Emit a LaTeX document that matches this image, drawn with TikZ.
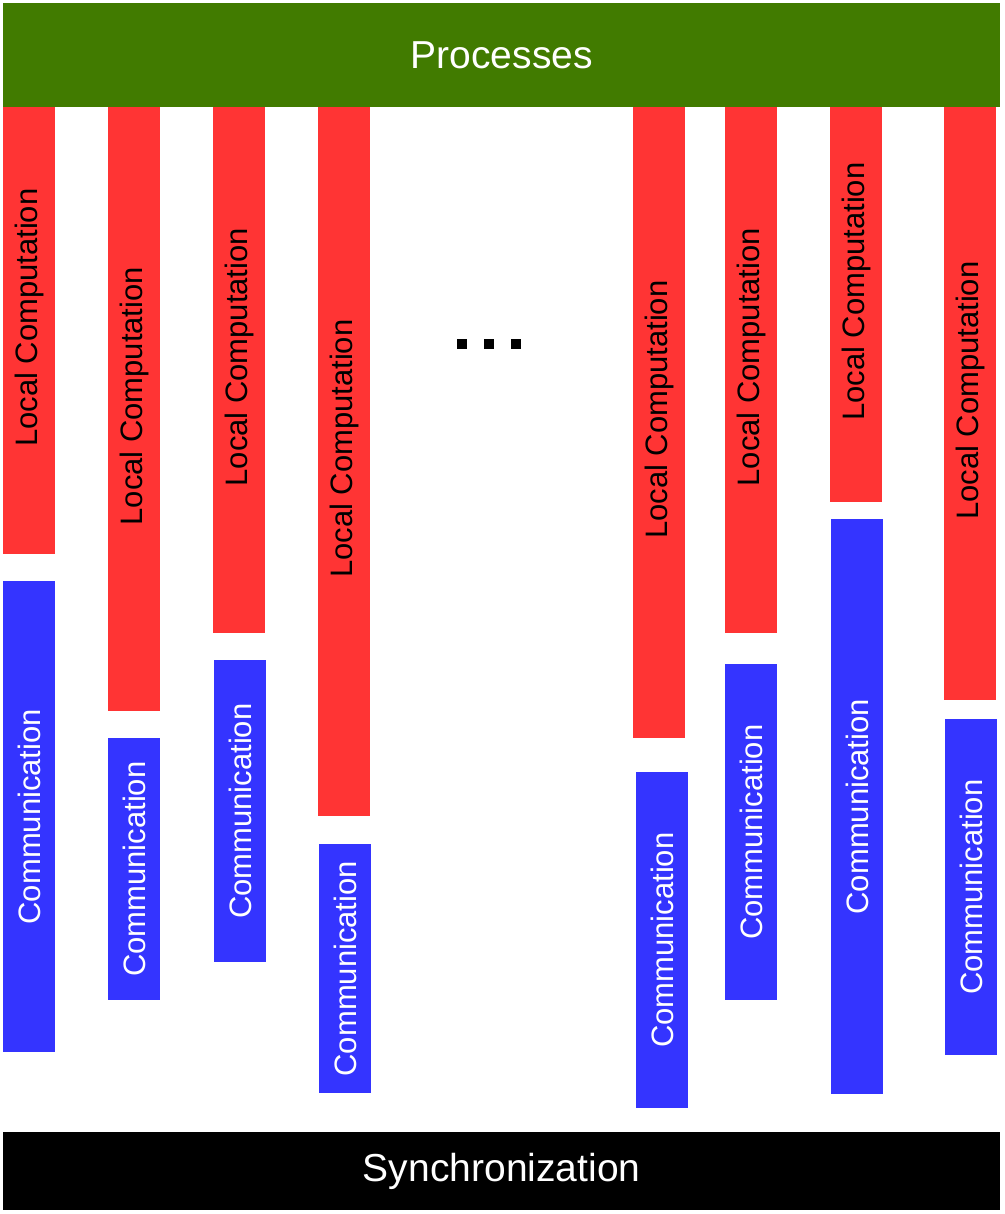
\documentclass[tikz,border=0pt]{standalone}
\usepackage{fontspec}
\setmainfont{Liberation Sans}
\definecolor{pgreen}{HTML}{417B00}
\definecolor{lcred}{HTML}{FF3434}
\definecolor{cmblue}{HTML}{3434FF}
\tikzset{
  bar/.style={draw=none, inner sep=0pt, anchor=north west, minimum width=52pt},
  lcbar/.style={bar, fill=lcred},
  cmbar/.style={bar, fill=cmblue},
  lctext/.style={rotate=90, text=black, inner sep=0pt, font=\fontsize{31}{31}\selectfont},
  cmtext/.style={rotate=90, text=white, inner sep=0pt, font=\fontsize{31}{31}\selectfont},
  bigtext/.style={text=white, font=\fontsize{39}{39}\selectfont},
  dotsq/.style={fill=black, draw=none, inner sep=0pt, minimum size=10pt},
}
\newcommand{\procol}[6]{%
  % #1 name, #2 x, #3 red bottom, #4 blue x, #5 blue top, #6 blue bottom
  \node[lcbar, minimum height={#3-107}] (l#1) at (#2,107) {};
  \node[lctext] (lt#1) at ([yshift=13pt]l#1.center) {Local Computation};
  \node[cmbar, minimum height={#6-#5}] (c#1) at (#4,#5) {};
  \node[cmtext] (ct#1) at (c#1.center) {Communication};
}
\begin{document}
\begin{tikzpicture}[x=1pt,y=-1pt]
\useasboundingbox (0,0) rectangle (1004,1214);
\fill[white] (0,0) rectangle (1004,1214);
\node[fill=pgreen, inner sep=0pt, anchor=north west, minimum width=997pt, minimum height=104pt] (proc) at (3,3) {};
\node[bigtext] (proct) at (proc.center) {Processes};
\procol{1}{3}{554}{3}{581}{1052}
\procol{2}{108}{711}{108}{738}{1000}
\procol{3}{213}{633}{214}{660}{962}
\procol{4}{318}{816}{319}{844}{1093}
\procol{5}{633}{738}{636}{772}{1108}
\procol{6}{725}{633}{725}{664}{1000}
\procol{7}{830}{502}{831}{519}{1094}
\procol{8}{944}{700}{945}{719}{1055}
\node[dotsq] (d1) at (462,344) {};
\node[dotsq] (d2) at (489,344) {};
\node[dotsq] (d3) at (516,344) {};
\node[fill=black, inner sep=0pt, anchor=north west, minimum width=997pt, minimum height=78pt] (sync) at (3,1132) {};
\node[bigtext] (synct) at (sync.center) {Synchronization};
\end{tikzpicture}
\end{document}
